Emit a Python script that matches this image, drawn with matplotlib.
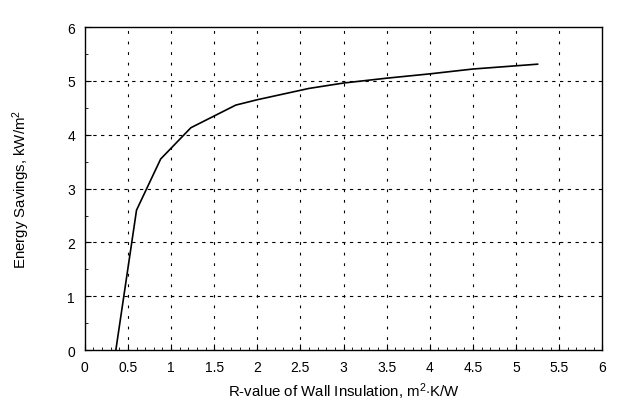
import numpy as np
import matplotlib.pyplot as plt
from matplotlib.ticker import MultipleLocator

# curve
r_value = [0.36, 0.60, 0.88, 1.23, 1.75, 2.0, 2.6, 3.0, 3.5, 4.0, 4.5, 5.0, 5.25]
savings = [0.0, 2.6, 3.55, 4.13, 4.55, 4.65, 4.86, 4.96, 5.05, 5.13, 5.22, 5.28, 5.31]

x_ticks = [0, 0.5, 1, 1.5, 2, 2.5, 3, 3.5, 4, 4.5, 5, 5.5, 6]
x_tick_labels = ["0", "0.5", "1", "1.5", "2", "2.5", "3", "3.5", "4", "4.5", "5", "5.5", "6"]
y_ticks = [0, 1, 2, 3, 4, 5, 6]

plt.rcParams["font.family"] = ["Liberation Sans", "DejaVu Sans"]
plt.rcParams["mathtext.fontset"] = "custom"
plt.rcParams["mathtext.rm"] = "Liberation Sans"
plt.rcParams["mathtext.it"] = "Liberation Sans"

fig = plt.figure(figsize=(6.28, 4.06), dpi=100)
ax = fig.add_axes([0.135, 0.135, 0.824, 0.796])

# grid: horizontal dashes, vertical sparse dashes
for y in y_ticks[1:-1]:
    ax.axhline(y, color="black", lw=0.8, dashes=(3, 4), zorder=1)
for x in x_ticks[1:-1]:
    ax.axvline(x, color="black", lw=0.8, dashes=(2.5, 7), zorder=1)

ax.plot(r_value, savings, color="black", lw=1.2, zorder=3)

ax.set_xlim(0, 6)
ax.set_ylim(0, 6)
ax.set_xticks(x_ticks)
ax.set_xticklabels(x_tick_labels)
ax.set_yticks(y_ticks)
ax.xaxis.set_minor_locator(MultipleLocator(0.1))
ax.yaxis.set_minor_locator(MultipleLocator(0.5))
ax.tick_params(which="both", direction="in", top=False, right=False,
               labelsize=10, colors="black")
ax.tick_params(which="major", length=4, width=0.8, pad=7)
ax.tick_params(which="minor", length=2, width=0.6)

for s in ax.spines.values():
    s.set_linewidth(1.0)
    s.set_color("black")

ax.set_xlabel(r"R-value of Wall Insulation, m$^2$$\cdot$K/W", fontsize=10.8, labelpad=5)
ax.set_ylabel(r"Energy Savings, kW/m$^2$", fontsize=10.8, labelpad=25)

fig.savefig("out.png", dpi=100)
